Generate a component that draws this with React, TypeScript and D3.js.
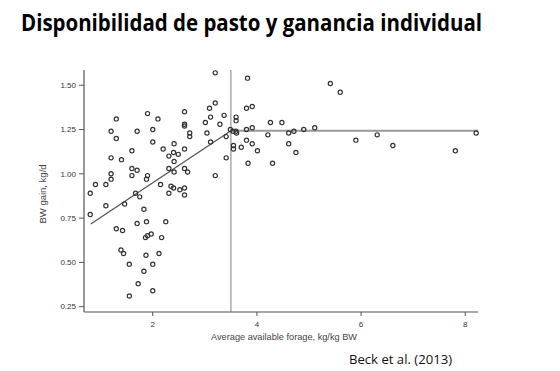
import React from "react";
import * as d3 from "d3";

const title = "Disponibilidad de pasto y ganancia individual";
const xLabel = "Average available forage, kg/kg BW";
const yLabel = "BW gain, kg/d";
const source = "Beck et al. (2013)";

const xTicks = [2, 4, 6, 8];
const yTicks = [0.25, 0.5, 0.75, 1.0, 1.25, 1.5];

const forage = [
  0.80, 0.90, 0.80, 1.10, 1.10, 1.20, 1.30, 1.30, 1.20, 1.40,
  1.20, 1.20, 1.30, 1.42, 1.46, 1.39, 1.44, 1.55, 1.55, 1.60,
  1.70, 1.60, 1.70, 1.60, 1.67, 1.75, 1.70, 1.72, 1.83, 1.88,
  1.86, 1.90, 1.97, 1.87, 1.83, 2.00, 2.00, 2.12, 2.17, 2.25,
  1.90, 2.10, 2.00, 2.00, 1.90, 1.88, 2.15, 2.20, 2.31, 2.41,
  2.40, 2.49, 2.41, 2.31, 2.41, 2.61, 2.67, 2.35, 2.40, 2.52,
  2.61, 2.31, 2.61, 2.61, 2.61, 2.61, 2.71, 2.71, 2.61, 3.01,
  3.04, 3.11, 3.09, 3.20, 3.20, 3.29, 3.37, 3.11, 3.20, 3.41,
  3.41, 3.49, 3.54, 3.60, 3.61, 3.60, 3.60, 3.55, 3.55, 3.70,
  3.80, 3.91, 3.80, 3.91, 3.82, 3.80, 3.91, 4.01, 3.83, 4.21,
  4.26, 4.30, 4.48, 4.61, 4.61, 4.71, 4.75, 4.90, 5.11, 5.41,
  5.60, 5.90, 6.31, 6.61, 7.81, 8.21,
];

const gain = [
  0.89, 0.94, 0.77, 0.94, 0.82, 1.24, 1.31, 1.20, 1.09, 1.08,
  1.00, 0.97, 0.69, 0.68, 0.83, 0.57, 0.55, 0.49, 0.31, 1.13,
  1.24, 1.03, 1.02, 0.99, 0.89, 0.87, 0.72, 0.38, 0.80, 0.73,
  0.64, 0.65, 0.66, 0.54, 0.45, 0.49, 0.34, 0.55, 0.64, 0.73,
  1.34, 1.31, 1.25, 1.18, 0.99, 0.97, 0.94, 1.14, 1.10, 1.17,
  1.12, 1.11, 1.07, 1.03, 1.01, 1.03, 1.01, 0.93, 0.92, 0.91,
  0.92, 0.89, 0.88, 1.35, 1.28, 1.27, 1.23, 1.21, 1.14, 1.29,
  1.23, 1.32, 1.37, 1.40, 1.57, 1.28, 1.33, 1.18, 0.99, 1.21,
  1.09, 1.25, 1.24, 1.24, 1.23, 1.32, 1.30, 1.16, 1.14, 1.15,
  1.25, 1.26, 1.37, 1.38, 1.54, 1.19, 1.17, 1.13, 1.06, 1.22,
  1.29, 1.06, 1.29, 1.17, 1.23, 1.24, 1.12, 1.25, 1.26, 1.51,
  1.46, 1.19, 1.22, 1.16, 1.13, 1.23,
];

// broken-line regression
const slopeX = [0.81, 3.5];
const slopeY = [0.717, 1.243];
const plateauX = [3.5, 8.245];
const plateauY = [1.243, 1.243];
const breakpoint = 3.5;

const X_DOMAIN = [0.68, 8.245];
const Y_DOMAIN = [0.22, 1.586];

export default function App() {
  const x = d3.scaleLinear().domain(X_DOMAIN).range([84, 478]);
  const y = d3.scaleLinear().domain(Y_DOMAIN).range([312, 70]);

  const seg = d3
    .line<[number, number]>()
    .x((d) => x(d[0]))
    .y((d) => y(d[1]));
  const slopePath = seg(slopeX.map((v, i) => [v, slopeY[i]]) as [number, number][]);
  const plateauPath = seg(plateauX.map((v, i) => [v, plateauY[i]]) as [number, number][]);

  const [x0, x1] = x.range();
  const [yb, yt] = y.range();
  const axisColor = "#555";
  const tickFont = "Liberation Sans, Arial, sans-serif";

  return (
    <svg
      width={560}
      height={371}
      style={{ position: "absolute", left: 0, top: 0, background: "#fff" }}
    >
      <text
        x={21}
        y={31}
        fontFamily="Open Sans, sans-serif"
        fontWeight={700}
        fontSize={22.5}
        fill="#000"
        textLength={461}
        lengthAdjust="spacingAndGlyphs"
      >
        {title}
      </text>

      {/* breakpoint vertical line */}
      <line
        x1={x(breakpoint)}
        x2={x(breakpoint)}
        y1={yt}
        y2={yb}
        stroke="#aaa"
        strokeWidth={1.5}
      />
      {/* plateau */}
      <path d={plateauPath || ""} stroke="#999" strokeWidth={2} fill="none" />
      {/* slope */}
      <path d={slopePath || ""} stroke="#555" strokeWidth={1.3} fill="none" />

      {/* points */}
      {forage.map((v, i) => (
        <circle
          key={i}
          cx={x(v)}
          cy={y(gain[i])}
          r={2.1}
          fill="none"
          stroke="#333"
          strokeWidth={1.2}
        />
      ))}

      {/* axes */}
      <line x1={x0} x2={x0} y1={yt} y2={yb} stroke={axisColor} strokeWidth={1.2} />
      <line x1={x0} x2={x1} y1={yb} y2={yb} stroke={axisColor} strokeWidth={1.2} />
      {yTicks.map((t) => (
        <g key={"y" + t}>
          <line x1={x0 - 5} x2={x0} y1={y(t)} y2={y(t)} stroke={axisColor} strokeWidth={1} />
          <text
            x={x0 - 8}
            y={y(t)}
            dy="0.35em"
            textAnchor="end"
            fontFamily={tickFont}
            fontSize={8}
            fill="#333"
          >
            {t.toFixed(2)}
          </text>
        </g>
      ))}
      {xTicks.map((t) => (
        <g key={"x" + t}>
          <line x1={x(t)} x2={x(t)} y1={yb} y2={yb + 4} stroke={axisColor} strokeWidth={1} />
          <text
            x={x(t)}
            y={yb + 15}
            textAnchor="middle"
            fontFamily={tickFont}
            fontSize={8}
            fill="#333"
          >
            {t}
          </text>
        </g>
      ))}
      <text
        x={284}
        y={340}
        textAnchor="middle"
        fontFamily={tickFont}
        fontSize={9.2}
        fill="#444"
      >
        {xLabel}
      </text>
      <text
        transform={`translate(46,194) rotate(-90)`}
        textAnchor="middle"
        fontFamily={tickFont}
        fontSize={9.5}
        fill="#444"
      >
        {yLabel}
      </text>

      <text
        x={349}
        y={364}
        fontFamily="Open Sans, sans-serif"
        fontSize={13}
        fill="#111"
        textLength={103}
        lengthAdjust="spacingAndGlyphs"
      >
        {source}
      </text>
    </svg>
  );
}
